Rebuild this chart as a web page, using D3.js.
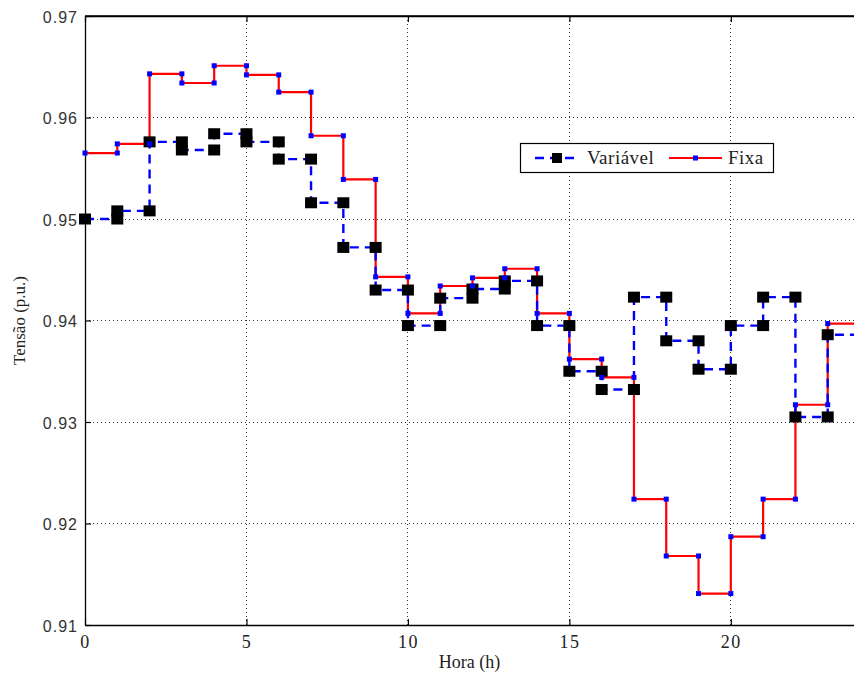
<!DOCTYPE html>
<html>
<head>
<meta charset="utf-8">
<script src="https://cdn.jsdelivr.net/npm/d3@7"></script>
<style>
  html, body { margin: 0; padding: 0; background: #fff; overflow: hidden; }
</style>
</head>
<body>
<svg id="chart" width="854" height="673"></svg>
<script>
// Hours 0..23 (each value holds from hour h to h+1)
const hours = d3.range(0, 24);
const variavel = [0.9500, 0.9508, 0.9576, 0.9568, 0.9584, 0.9576, 0.9559, 0.9516,
                  0.9472, 0.9430, 0.9395, 0.9422, 0.9431, 0.9439, 0.9395, 0.9350,
                  0.9332, 0.9423, 0.9380, 0.9352, 0.9395, 0.9423, 0.9305, 0.9386];
const fixa     = [0.9565, 0.9574, 0.9643, 0.9634, 0.9651, 0.9642, 0.9625, 0.9582,
                  0.9539, 0.9443, 0.9407, 0.9434, 0.9442, 0.9451, 0.9407, 0.9362,
                  0.9344, 0.9224, 0.9168, 0.9131, 0.9187, 0.9224, 0.9317, 0.9397];
const xTicks = [0, 5, 10, 15, 20];
const yTicks = [0.91, 0.92, 0.93, 0.94, 0.95, 0.96, 0.97];
const seriesNames = ["Variável", "Fixa"];

const SERIF = "'Liberation Serif', 'DejaVu Serif', 'Times New Roman', serif";
const SANS = "'Liberation Sans', Arial, sans-serif";

const svg = d3.select("#chart");
const margin = {left: 85, top: 16, right: -6, bottom: 48};
const W = 854, H = 673;
const x = d3.scaleLinear().domain([0, 24]).range([margin.left, W - margin.right]);
const y = d3.scaleLinear().domain([0.91, 0.97]).range([H - margin.bottom, margin.top]);

// stair vertices
function stairPts(vals) {
  const pts = [];
  vals.forEach((v, i) => { pts.push([hours[i], v]); pts.push([hours[i] + 1, v]); });
  return pts;
}

// grid
const grid = svg.append("g").attr("stroke", "#000").attr("stroke-width", 1)
  .attr("stroke-dasharray", "1,3").attr("shape-rendering", "crispEdges");
xTicks.filter(t => t > 0).forEach(t => grid.append("line")
  .attr("x1", x(t)).attr("x2", x(t)).attr("y1", y(0.91)).attr("y2", y(0.97)).attr("stroke-opacity", 0.8));
yTicks.filter(t => t > 0.91 && t < 0.97).forEach(t => grid.append("line")
  .attr("x1", x(0)).attr("x2", x(24)).attr("y1", y(t)).attr("y2", y(t)).attr("stroke-opacity", 0.8));

// axes
const xAxis = svg.append("g").attr("transform", `translate(0,${y(0.91)})`)
  .call(d3.axisBottom(x).tickValues(xTicks).tickSizeInner(-6).tickSizeOuter(0).tickPadding(10));
const xAxisTop = svg.append("g").attr("transform", `translate(0,${y(0.97)})`)
  .call(d3.axisTop(x).tickValues(xTicks).tickSizeInner(-6).tickSizeOuter(0).tickFormat(""));
const yAxis = svg.append("g").attr("transform", `translate(${x(0)},0)`)
  .call(d3.axisLeft(y).tickValues(yTicks).tickSizeInner(-6).tickSizeOuter(0).tickPadding(7)
    .tickFormat(d3.format(".2f")));
[xAxis, xAxisTop, yAxis].forEach(g => {
  g.selectAll(".domain").attr("stroke", "#000").attr("stroke-width", 1.3);
  g.selectAll(".tick line").attr("stroke", "#000").attr("stroke-width", 1.2);
});
xAxis.selectAll("text").style("font-family", SERIF).style("font-size", "18px")
  .attr("letter-spacing", 1.5).attr("fill", "#222");
yAxis.selectAll("text").style("font-family", SANS).style("font-size", "16px")
  .attr("letter-spacing", 1).attr("fill", "#333").attr("dy", "0.4em");

// lines
const line = d3.line().x(d => x(d[0])).y(d => y(d[1]));
svg.append("clipPath").attr("id", "clip").append("rect")
  .attr("x", x(0) - 10).attr("y", y(0.97) - 10).attr("width", x(24) - x(0) + 20).attr("height", y(0.91) - y(0.97) + 20);
const plot = svg.append("g").attr("clip-path", "url(#clip)");

const pF = stairPts(fixa), pV = stairPts(variavel);
plot.append("path").attr("d", line(pF)).attr("fill", "none").attr("stroke", "#ff0000").attr("stroke-width", 2.2);
plot.append("path").attr("d", line(pV)).attr("fill", "none").attr("stroke", "#0000ff")
  .attr("stroke-width", 2.4).attr("stroke-dasharray", "9,6");
plot.selectAll(".sq").data(pV).enter().append("rect")
  .attr("x", d => x(d[0]) - 6).attr("y", d => y(d[1]) - 5.5).attr("width", 12).attr("height", 11).attr("fill", "#000");
plot.selectAll(".dt").data(pF).enter().append("rect")
  .attr("x", d => x(d[0]) - 2.5).attr("y", d => y(d[1]) - 2.5).attr("width", 5).attr("height", 5).attr("fill", "#0000ff");

svg.append("line").attr("x1", x(0)).attr("x2", x(24)).attr("y1", y(0.97)).attr("y2", y(0.97)).attr("stroke", "#000").attr("stroke-width", 1.3);

// axis labels
svg.append("text").attr("x", (x(0) + x(24)) / 2 - 3).attr("y", 668).attr("text-anchor", "middle")
  .style("font-family", SERIF).style("font-size", "18px").attr("fill", "#222").text("Hora (h)");
svg.append("text").attr("transform", `translate(25,${(y(0.91) + y(0.97)) / 2}) rotate(-90)`).attr("text-anchor", "middle")
  .style("font-family", SERIF).style("font-size", "17px").attr("fill", "#222").text("Tensão (p.u.)");

// legend
const lg = svg.append("g");
lg.append("rect").attr("x", 520.5).attr("y", 143.5).attr("width", 253).attr("height", 29)
  .attr("fill", "#fff").attr("stroke", "#000").attr("stroke-width", 1.2);
const ly = 158;
lg.append("line").attr("x1", 535).attr("x2", 580).attr("y1", ly).attr("y2", ly)
  .attr("stroke", "#0000ff").attr("stroke-width", 2.4).attr("stroke-dasharray", "9,6");
lg.append("rect").attr("x", 552).attr("y", ly - 5).attr("width", 10).attr("height", 10).attr("fill", "#000");
lg.append("text").attr("x", 587).attr("y", ly + 6).style("font-family", SERIF)
  .style("font-size", "19px").attr("letter-spacing", 0.5).attr("fill", "#222").text(seriesNames[0]);
lg.append("line").attr("x1", 669).attr("x2", 722).attr("y1", ly).attr("y2", ly)
  .attr("stroke", "#ff0000").attr("stroke-width", 2.2);
lg.append("rect").attr("x", 693).attr("y", ly - 2.5).attr("width", 5).attr("height", 5).attr("fill", "#0000ff");
lg.append("text").attr("x", 728).attr("y", ly + 6).style("font-family", SERIF)
  .style("font-size", "19px").attr("letter-spacing", 0.5).attr("fill", "#222").text(seriesNames[1]);
</script>
</body>
</html>
